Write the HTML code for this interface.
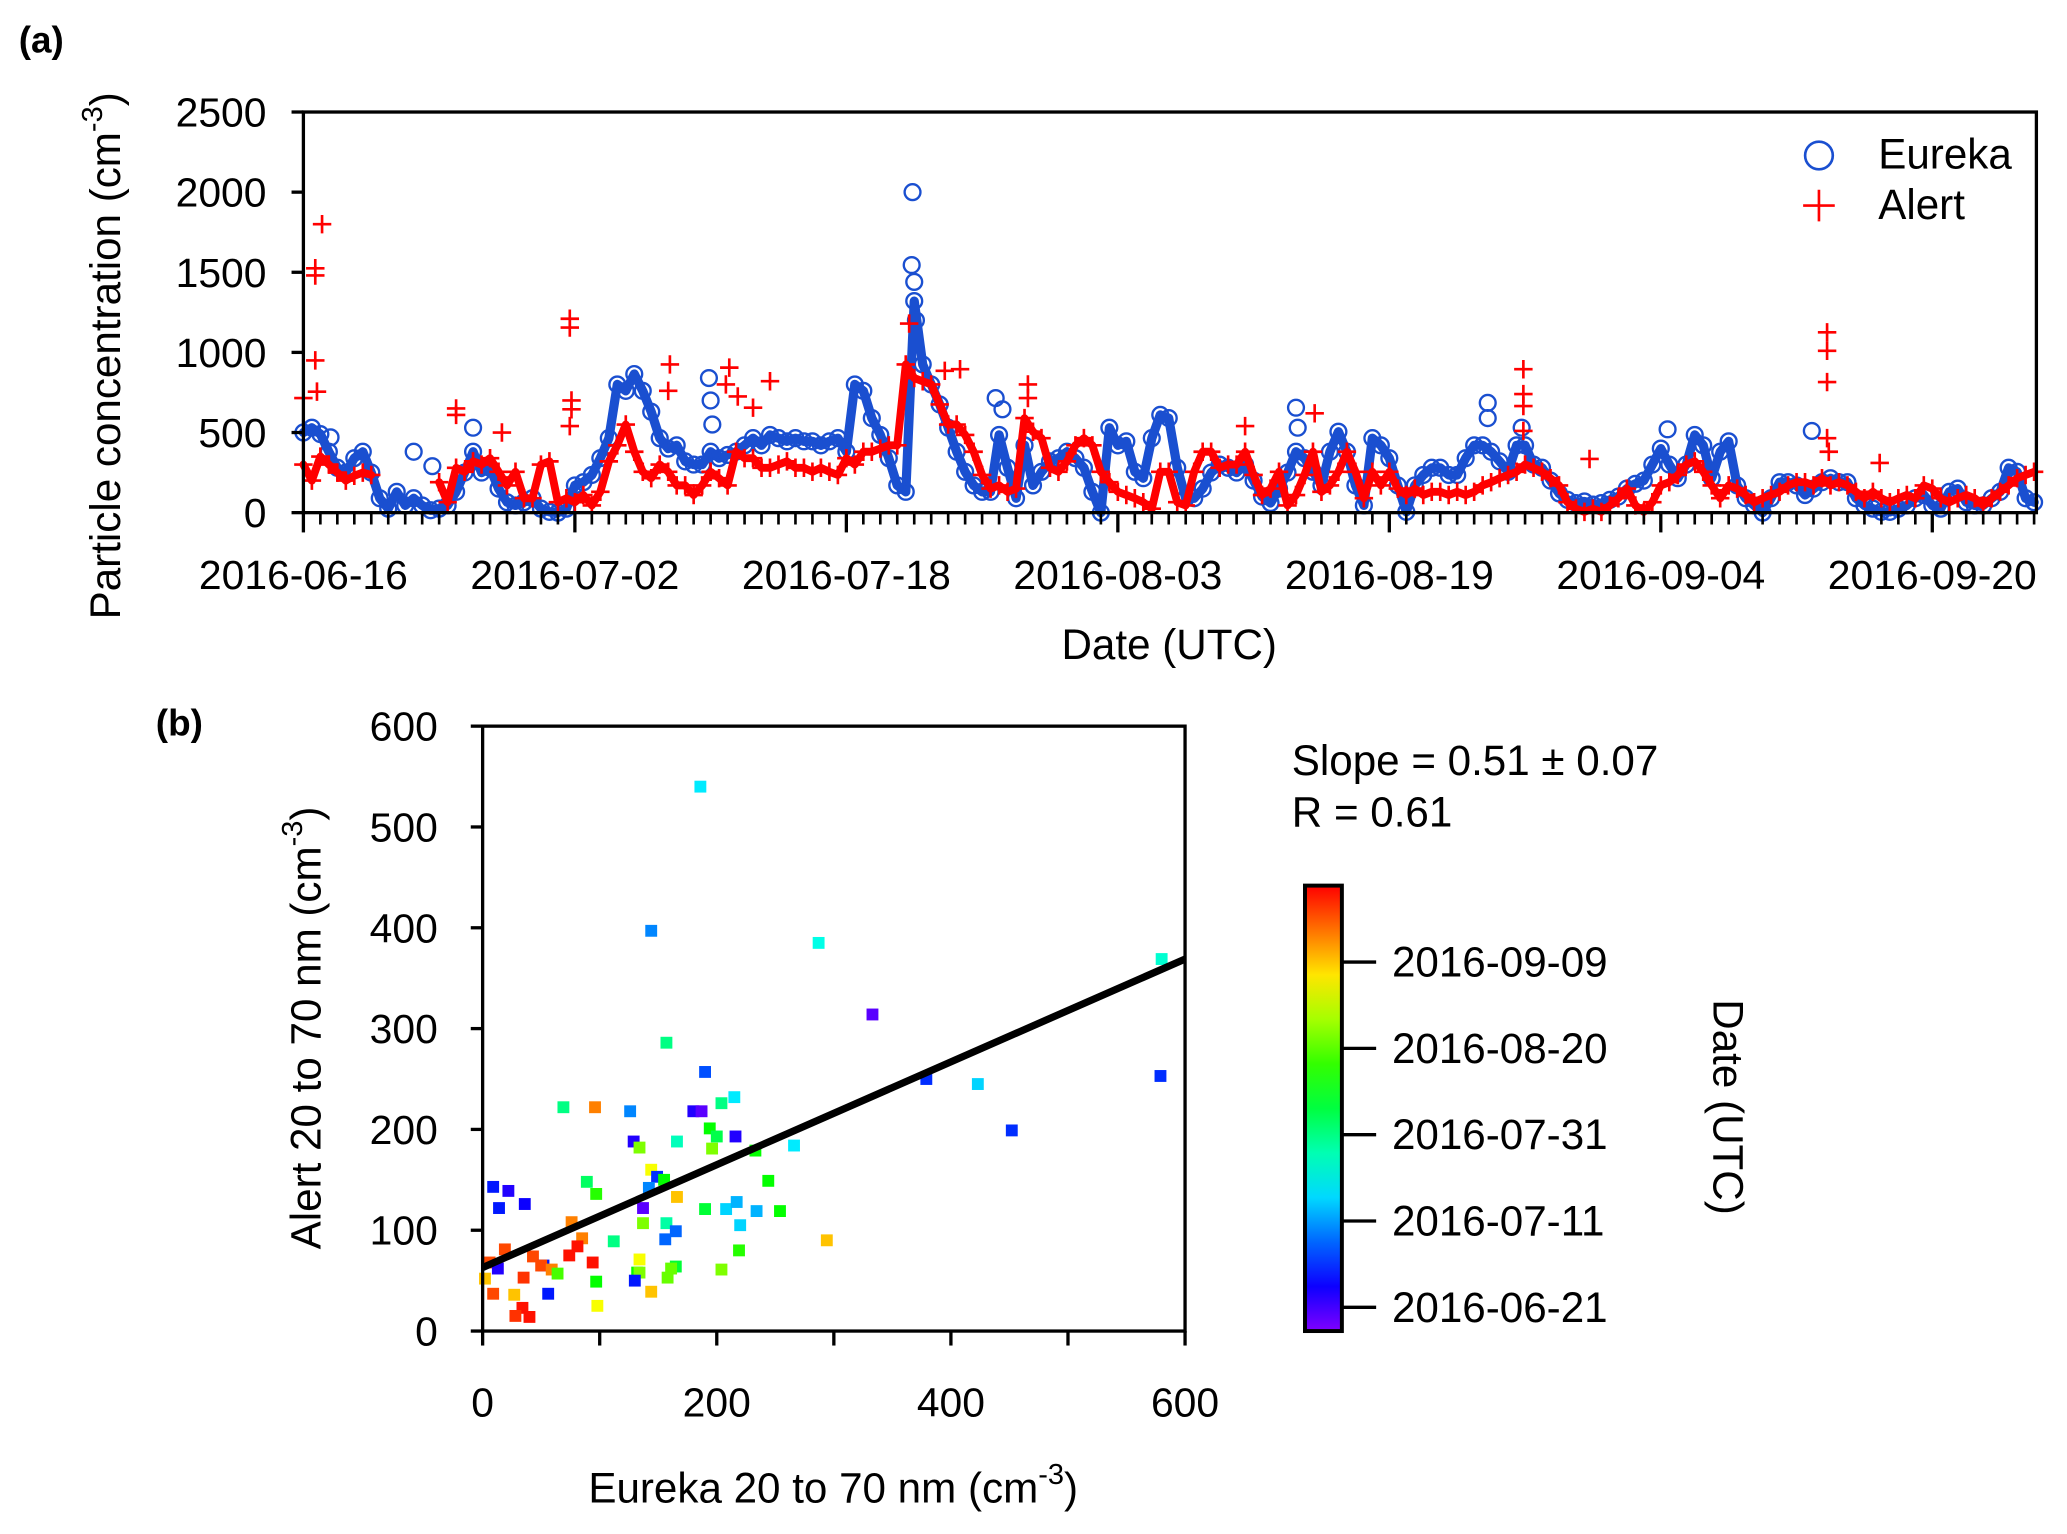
<!DOCTYPE html>
<html><head><meta charset="utf-8"><style>
html,body{margin:0;padding:0;background:#fff;}
svg{display:block;font-family:"Liberation Sans",Arial,sans-serif;}
</style></head><body>
<svg id="fig" width="2067" height="1534" viewBox="0 0 1568 1164" xmlns="http://www.w3.org/2000/svg">
<defs>
<linearGradient id="rainbow" x1="0" y1="1" x2="0" y2="0">
<stop offset="0" stop-color="hsl(270,100%,50%)"/><stop offset="0.1" stop-color="hsl(243,100%,50%)"/>
<stop offset="0.2" stop-color="hsl(216,100%,50%)"/><stop offset="0.3" stop-color="hsl(189,100%,50%)"/>
<stop offset="0.4" stop-color="hsl(162,100%,50%)"/><stop offset="0.5" stop-color="hsl(135,100%,50%)"/>
<stop offset="0.6" stop-color="hsl(108,100%,50%)"/><stop offset="0.7" stop-color="hsl(81,100%,50%)"/>
<stop offset="0.8" stop-color="hsl(54,100%,50%)"/><stop offset="0.9" stop-color="hsl(27,100%,50%)"/>
<stop offset="1" stop-color="hsl(0,100%,50%)"/>
</linearGradient>
</defs>
<text x="14" y="40" font-size="28" font-weight="bold">(a)</text>
<text x="118" y="558" font-size="28" font-weight="bold">(b)</text>
<g id="pa"></g>
<g id="pb"></g>
</svg>
<script>
// ---------- Panel (a) data ----------
const tsStartDay = 0, tsStep = 0.5; // days since 2016-06-16
const eurekaValues = [
500,530,490,380,280,250,340,380,250,90,
25,130,45,90,45,15,25,45,130,250,
380,250,280,150,65,45,65,90,25,5,
0,25,170,190,235,340,465,800,760,865,
760,630,465,400,420,320,300,300,380,340,
360,380,420,465,420,485,465,445,465,445,
445,420,445,465,380,800,760,590,485,340,
170,130,1320,925,800,675,530,380,255,170,
130,130,485,280,90,420,170,255,320,340,
380,340,280,130,0,530,420,445,255,215,
465,610,590,280,90,90,150,250,300,280,
250,300,200,100,60,150,250,380,340,255,
170,380,505,380,170,45,465,420,340,170,
5,170,235,280,280,235,235,340,420,420,
380,320,255,420,420,300,280,200,120,80,
60,70,50,60,80,100,150,180,200,300,
400,300,215,300,485,420,215,380,445,170,
90,45,0,90,190,190,170,110,150,190,
215,190,190,90,45,25,5,5,25,45,
90,110,45,25,130,150,65,45,45,90,
130,280,255,90,65];
const alertValues = [
300,200,350,300,250,200,230,250,235,null,
null,null,null,null,null,null,190,65,280,255,
320,300,340,255,170,255,90,90,300,320,
65,90,65,110,45,130,320,420,550,380,
255,215,300,255,170,170,110,170,255,215,
170,380,340,340,280,280,300,320,280,280,
255,280,255,235,340,300,380,380,400,420,
420,925,840,820,800,675,550,550,485,380,
235,150,170,130,150,590,505,465,280,255,
320,420,465,420,255,190,130,110,90,65,
25,255,255,65,45,255,380,380,280,300,
300,380,235,110,150,255,45,110,235,380,
130,170,255,380,255,90,255,170,255,150,
110,150,110,130,130,110,130,110,130,170,
190,215,235,255,300,280,255,215,170,65,
25,5,25,5,45,90,150,45,5,65,
170,190,235,300,320,255,170,90,170,150,
110,65,90,110,130,170,190,190,170,215,
170,190,170,130,90,130,90,65,90,110,
90,170,150,90,65,90,110,90,45,90,
130,170,215,235,255];
const eurekaExtraDays = [1.6,6.5,7.6,10,23.9,24,24.1,35.9,35.85,36.0,36.1,40.8,41.2,58.5,58.6,69.8,69.8,71.8,80.4,88.9];
const eurekaExtraVals = [470,380,290,530,840,700,550,2000,1545,1440,1200,715,645,655,530,685,590,530,520,510];
const alertExtraDays = [1.1,0.7,0.7,0.7,0.8,0,9.0,9.0,11.7,15.7,15.7,15.8,15.8,15.7,21.6,21.5,25.1,24.9,25.6,26.5,27.5,35.7,38.7,37.8,42.7,42.7,55.5,59.6,71.9,71.9,71.9,71.9,75.8,89.8,89.8,89.8,89.8,89.9,92.9];
const alertExtraVals = [1800,1525,1480,950,755,715,650,610,500,1210,1155,700,645,540,925,760,905,800,725,655,820,1180,895,885,800,715,540,620,895,740,665,510,335,1125,1010,815,465,380,310];
const yTicksA = [0,500,1000,1500,2000,2500];
const xTickDaysA = [0,16,32,48,64,80,96];
const xTickLabelsA = ["2016-06-16","2016-07-02","2016-07-18","2016-08-03","2016-08-19","2016-09-04","2016-09-20"];

// ---------- Panel (b) data ----------
const scatterEureka = [186,144,287,580,333,157,190,379,423,579,452,69,96,126,180,187,204,215,129,134,166,194,200,196,216,266,233,144,149,155,142,166,244,9,22,14,36,89,97,137,190,208,217,234,254,76,137,157,220,165,156,112,85,81,74,19,43,52,50,59,94,6,13,64,2,35,134,132,134,165,161,158,204,219,294,97,130,144,56,9,27,98,34,28,40];
const scatterAlert = [540,397,385,369,314,286,257,250,245,253,199,222,222,218,218,218,226,232,188,182,188,201,193,181,193,184,179,160,153,150,142,133,149,143,139,122,126,148,136,122,121,121,128,119,119,108,107,107,105,99,91,89,92,84,75,81,74,65,65,61,68,68,62,57,52,53,71,58,58,64,62,53,61,80,90,49,50,39,37,37,36,25,23,15,14];
const scatterDay = [32,23,36,38,3,45,18,15,30,15,15,45,91,23,8,3,45,32,8,68,40,57,50,68,8,32,57,79,15,57,23,85,57,13,8,13,10,48,60,3,52,30,27,27,57,91,68,42,30,20,20,45,91,101,101,96,96,13,96,91,101,96,8,63,85,98,79,57,68,52,66,66,68,60,85,57,13,85,13,96,85,79,101,98,101];
const fitSlope = 0.51, fitIntercept = 63;
const axisTicksB = [0,100,200,300,400,500,600];
const cbarTickDays = [5,25,45,65,85];
const cbarTickLabels = ["2016-06-21","2016-07-11","2016-07-31","2016-08-20","2016-09-09"];

const NS = "http://www.w3.org/2000/svg";
function mk(parent, tag, attrs, text){
  const e = document.createElementNS(NS, tag);
  for (const k in attrs) e.setAttribute(k, attrs[k]);
  if (text !== undefined) e.textContent = text;
  parent.appendChild(e);
  return e;
}
// ---------- Panel (a) ----------
const pa = document.getElementById('pa');
const AX0 = 230, AX1 = 1545, AY0 = 389, AY1 = 85;
const xA = d => AX0 + d * 12.875;
const yA = v => AY0 - v * (AY0 - AY1) / 2500;

function band(values, color, width, name){
  let segs = [], cur = [];
  values.forEach((v, i) => {
    if (v === null) { if (cur.length) segs.push(cur); cur = []; return; }
    cur.push(xA(tsStartDay + i * tsStep).toFixed(1) + ',' + yA(v).toFixed(1));
  });
  if (cur.length) segs.push(cur);
  segs.forEach(s => {
    const p = mk(pa, 'polyline', {points: s.join(' '), fill: 'none', stroke: color, 'stroke-width': width, 'stroke-linejoin': 'round', 'stroke-linecap': 'round'});
    
    
  });
}
function circle(d, v){
  const c = mk(pa, 'circle', {cx: xA(d), cy: yA(v), r: 6, fill: 'none', stroke: '#1a4fd0', 'stroke-width': 1.8});
  
  
}
function plus(d, v){
  const x = xA(d), y = yA(v);
  const p = mk(pa, 'path', {d: `M${x-7},${y}H${x+7}M${x},${y-7}V${y+7}`, stroke: '#ff0000', 'stroke-width': 2, fill: 'none'});
  
  
}
band(eurekaValues, '#1a4fd0', 7, 'eureka-band');
eurekaValues.forEach((v, i) => { if (v !== null) circle(tsStartDay + i * tsStep, v); });
eurekaExtraDays.forEach((d, i) => circle(d, eurekaExtraVals[i]));
band(alertValues, '#ff0000', 6, 'alert-band');
alertValues.forEach((v, i) => { if (v !== null) plus(tsStartDay + i * tsStep, v); });
alertExtraDays.forEach((d, i) => plus(d, alertExtraVals[i]));

let fr = mk(pa, 'rect', {x: AX0, y: AY1, width: AX1 - AX0, height: AY0 - AY1, fill: 'none', stroke: '#000', 'stroke-width': 2.5});


yTicksA.forEach(v => {
  mk(pa, 'line', {x1: AX0 - 9, x2: AX0, y1: yA(v), y2: yA(v), stroke: '#000', 'stroke-width': 2.5});
  const t = mk(pa, 'text', {x: 202, y: yA(v) + 11, 'font-size': 31, 'text-anchor': 'end'}, String(v));
  
  
});
for (let d = 0; d <= 102; d++) {
  const major = xTickDaysA.includes(d);
  mk(pa, 'line', {x1: xA(d), x2: xA(d), y1: AY0, y2: AY0 + (major ? 15 : 9), stroke: '#000', 'stroke-width': major ? 2.5 : 2});
}
xTickDaysA.forEach((d, i) => {
  const t = mk(pa, 'text', {x: xA(d), y: 447, 'font-size': 31, 'text-anchor': 'middle'}, xTickLabelsA[i]);
  
  
});
let xt = mk(pa, 'text', {x: 887, y: 500, 'font-size': 32, 'text-anchor': 'middle'}, 'Date (UTC)');


let yt = mk(pa, 'text', {transform: 'translate(91,270) rotate(-90)', 'font-size': 32, 'text-anchor': 'middle'});


yt.innerHTML = 'Particle concentration (cm<tspan dy="-14" font-size="22">-3</tspan><tspan dy="14">)</tspan>';
// legend
let lg = mk(pa, 'g', {});


mk(lg, 'circle', {cx: 1380, cy: 118, r: 10.5, fill: 'none', stroke: '#1a4fd0', 'stroke-width': 2});
mk(lg, 'text', {x: 1425, y: 128, 'font-size': 32}, 'Eureka');
mk(lg, 'path', {d: 'M1368,156H1392M1380,144V168', stroke: '#ff0000', 'stroke-width': 2});
mk(lg, 'text', {x: 1425, y: 166, 'font-size': 32}, 'Alert');

// ---------- Panel (b) ----------
const pb = document.getElementById('pb');
const BX0 = 366, BX1 = 899, BY0 = 1010, BY1 = 551;
const xB = v => BX0 + v * (BX1 - BX0) / 600;
const yB = v => BY0 - v * (BY0 - BY1) / 600;
const hueOf = d => 270 * (1 - (d + 0.5) / 103);

scatterEureka.forEach((ex, i) => {
  const s = mk(pb, 'rect', {x: xB(ex) - 4.5, y: yB(scatterAlert[i]) - 4.5, width: 9, height: 9, fill: `hsl(${hueOf(scatterDay[i])},100%,50%)`});
  
  
});
let fl = mk(pb, 'line', {x1: xB(0), y1: yB(fitIntercept), x2: xB(600), y2: yB(fitIntercept + fitSlope * 600), stroke: '#000', 'stroke-width': 5.5});


let fb = mk(pb, 'rect', {x: BX0, y: BY1, width: BX1 - BX0, height: BY0 - BY1, fill: 'none', stroke: '#000', 'stroke-width': 2.5});


axisTicksB.forEach(v => {
  mk(pb, 'line', {x1: BX0 - 9, x2: BX0, y1: yB(v), y2: yB(v), stroke: '#000', 'stroke-width': 2.5});
  const t = mk(pb, 'text', {x: 332, y: yB(v) + 11, 'font-size': 31, 'text-anchor': 'end'}, String(v));
  
  
  mk(pb, 'line', {x1: xB(v), x2: xB(v), y1: BY0, y2: BY0 + 11, stroke: '#000', 'stroke-width': 2.5});
  if (v % 200 === 0) {
    const tx = mk(pb, 'text', {x: xB(v), y: 1075, 'font-size': 31, 'text-anchor': 'middle'}, String(v));
    
    
  }
});
let bxt = mk(pb, 'text', {x: 632, y: 1140, 'font-size': 32, 'text-anchor': 'middle'});


bxt.innerHTML = 'Eureka 20 to 70 nm (cm<tspan dy="-14" font-size="22">-3</tspan><tspan dy="14">)</tspan>';
let byt = mk(pb, 'text', {transform: 'translate(243,780) rotate(-90)', 'font-size': 32, 'text-anchor': 'middle'});


byt.innerHTML = 'Alert 20 to 70 nm (cm<tspan dy="-14" font-size="22">-3</tspan><tspan dy="14">)</tspan>';
let st = mk(pb, 'text', {x: 980, y: 588, 'font-size': 32}, 'Slope = 0.51 ± 0.07');


let rt = mk(pb, 'text', {x: 980, y: 627, 'font-size': 32}, 'R = 0.61');


// colorbar
const cbY = d => 992 - (d - 5) * 65.5 / 20;
let cb = mk(pb, 'rect', {x: 990, y: 672, width: 28, height: 338, fill: 'url(#rainbow)', stroke: '#000', 'stroke-width': 3});


cbarTickDays.forEach((d, i) => {
  mk(pb, 'line', {x1: 1018, x2: 1044, y1: cbY(d), y2: cbY(d), stroke: '#000', 'stroke-width': 2.5});
  const t = mk(pb, 'text', {x: 1056, y: cbY(d) + 11, 'font-size': 32}, cbarTickLabels[i]);
  
  
});
let ct = mk(pb, 'text', {transform: 'translate(1300,840) rotate(90)', 'font-size': 32, 'text-anchor': 'middle'}, 'Date (UTC)');


</script>
</body></html>
